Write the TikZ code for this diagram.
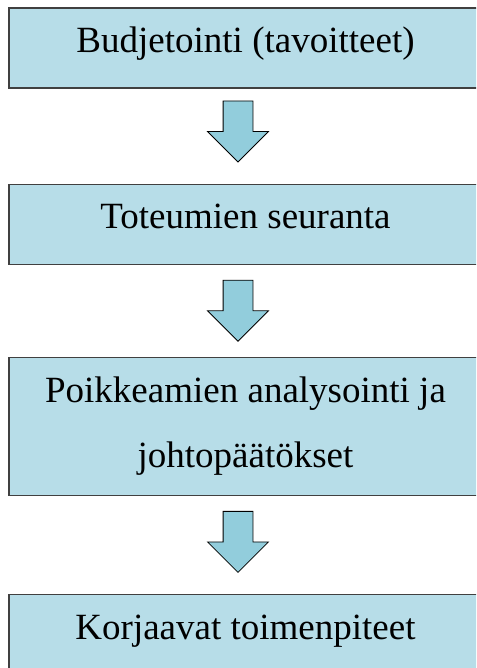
\documentclass[tikz,border=0pt]{standalone}
\usepackage{fontspec}
\setmainfont{Liberation Serif}
\usepackage{xcolor}
\usepackage{tikz}
\usetikzlibrary{positioning, shapes.arrows, calc}
\definecolor{boxfill}{RGB}{183,221,232}
\definecolor{arrowfill}{RGB}{146,205,220}
\definecolor{boxline}{RGB}{64,64,64}

\begin{document}
\begin{tikzpicture}[x=1pt, y=1pt,
        phase/.style={draw=boxline, line width=1.2pt, fill=boxfill, minimum width=473pt, minimum height=80pt, inner sep=0pt, font=\fontsize{37}{65}\selectfont, text height=27pt, text depth=18pt},
        downarrow/.style={single arrow, draw=black, line width=0.8pt, fill=arrowfill, rotate=-90, anchor=tail, minimum height=61pt, inner xsep=0pt, inner ysep=14.5pt, single arrow head extend=15.5pt, single arrow tip angle=90}]
        \useasboundingbox (0,0) rectangle (476,668);
        \clip (0,0) rectangle (476,668);
        \node[phase] (budget) at (245.5,620) {Budjetointi (tavoitteet)};
        \node[phase, below=95pt of budget] (actuals) {Toteumien seuranta};
        \node[phase, below=92pt of actuals, minimum height=138pt, align=center, text height=, text depth=] (analysis) {Poikkeamien analysointi ja\\johtopäätökset};
        \node[phase, below=98pt of analysis] (actions) {Korjaavat toimenpiteet};
        \node[downarrow] (flow1) at ($(budget.south)+(-7.5,-12)$) {};
        \node[downarrow] (flow2) at ($(actuals.south)+(-7.5,-15)$) {};
        \node[downarrow] (flow3) at ($(analysis.south)+(-7.5,-15)$) {};
    \end{tikzpicture}
\end{document}
